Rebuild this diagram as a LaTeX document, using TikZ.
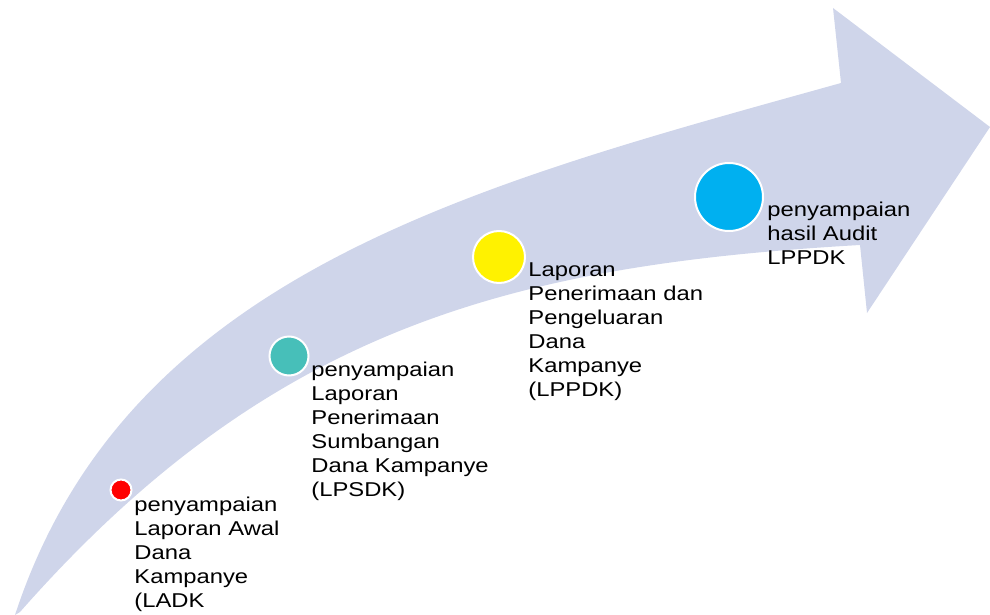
\documentclass[tikz,border=0pt]{standalone}
\usepackage{fontspec}
\setmainfont{Liberation Sans}[FakeStretch=1.19]
\definecolor{bandblue}{HTML}{CFD5EA}
\definecolor{lpsdkteal}{HTML}{47BFB9}
\definecolor{auditblue}{HTML}{00B0F0}
\begin{document}
\begin{tikzpicture}[x=0.5pt,y=-0.5pt,
  dot/.style={circle,draw=white,line width=1pt,inner sep=0pt},
  txt/.style={anchor=north west,align=left,inner sep=0pt,font=\fontsize{10}{12}\selectfont}]
\useasboundingbox (0,0) rectangle (990,615);
% curved arrow
\fill[bandblue] (15,615) .. controls (127,273) and (475,185) .. (841,83) -- (833,8) -- (990,127) -- (867,313) -- (860,245) .. controls (513,265) and (271,327) .. (20,612) -- cycle;
% steps
\node[dot,fill=red,minimum size=10.5pt] (ladk) at (121,490) {};
\node[dot,fill=lpsdkteal,minimum size=19.5pt] (lpsdk) at (289,356) {};
\node[dot,fill=yellow,minimum size=26pt] (lppdk) at (499,257) {};
\node[dot,fill=auditblue,minimum size=34pt] (audit) at (729,197) {};
\node[txt] (ladktxt) at (134,497) {penyampaian\\Laporan Awal\\Dana\\Kampanye\\(LADK};
\node[txt] (lpsdktxt) at (311,362) {penyampaian\\Laporan\\Penerimaan\\Sumbangan\\Dana Kampanye\\(LPSDK)};
\node[txt] (lppdktxt) at (528,262) {Laporan\\Penerimaan dan\\Pengeluaran\\Dana\\Kampanye\\(LPPDK)};
\node[txt] (audittxt) at (767,202) {penyampaian\\hasil Audit\\LPPDK};
\end{tikzpicture}
\end{document}
